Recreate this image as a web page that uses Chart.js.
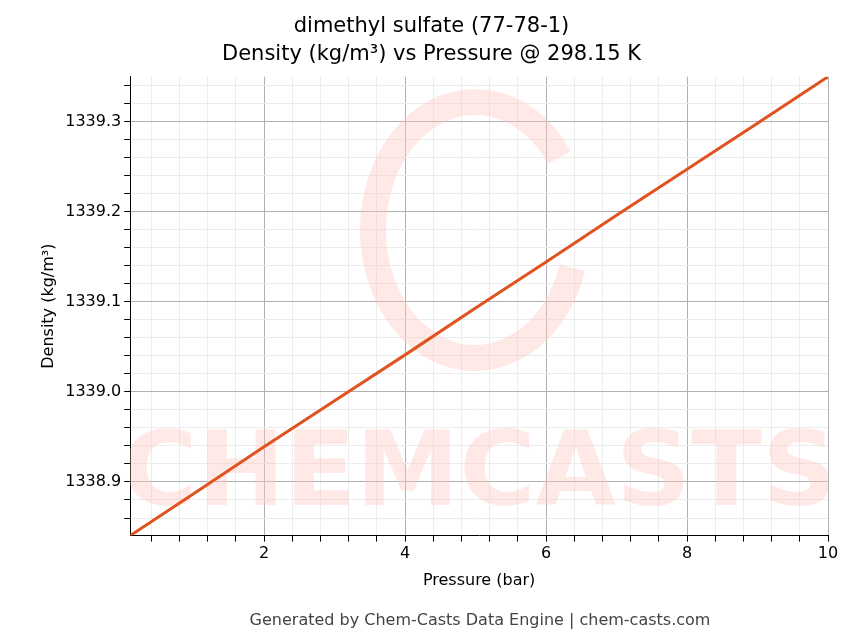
<!DOCTYPE html>
<html><head><meta charset="utf-8">
<script src="https://cdn.jsdelivr.net/npm/chart.js@4"></script>
<style>html,body{margin:0;background:#fff}#wrap{width:856px;height:644px;position:relative}</style>
</head><body><div id="wrap"><canvas id="c" width="856" height="644"></canvas></div>
<script>
const pressure = [0.1, 1, 2, 3, 4, 5, 6, 7, 8, 9, 10];
const density = [1338.8405, 1338.887, 1338.939, 1338.990, 1339.041, 1339.093, 1339.144, 1339.196, 1339.247, 1339.298, 1339.3496];
const xMajor = [2, 4, 6, 8, 10];
const yMajor = [1338.9, 1339.0, 1339.1, 1339.2, 1339.3];

const isMajor = (v, list) => list.some(m => Math.abs(m - v) < 1e-6);

// faint watermark + footer
const extras = {
  id: "extras",
  beforeDatasetsDraw(chart) {
    const { ctx, chartArea: a } = chart;
    ctx.save();
    ctx.beginPath(); ctx.rect(a.left, a.top, a.right - a.left, a.bottom - a.top); ctx.clip();
    ctx.fillStyle = "rgba(255,200,195,0.4)";
    ctx.font = "bold 104px 'DejaVu Sans'";
    ctx.textAlign = "center"; ctx.textBaseline = "middle";
    ctx.fillText("CHEMCASTS", (a.left + a.right) / 2, 478);
    ctx.strokeStyle = "rgba(255,200,195,0.4)"; ctx.lineWidth = 26;
    ctx.beginPath(); ctx.ellipse(475, 230, 102, 128, 0, 0.3, 2 * Math.PI - 0.6); ctx.stroke();
    ctx.restore();
  },
  afterDraw(chart) {
    const { ctx } = chart;
    ctx.save();
    ctx.fillStyle = "#444"; ctx.font = "16px 'DejaVu Sans'"; ctx.textAlign = "center";
    ctx.fillText("Generated by Chem-Casts Data Engine | chem-casts.com", 480, 625);
    ctx.restore();
  }
};

new Chart(document.getElementById("c"), {
  type: "line",
  data: { datasets: [{
    data: pressure.map((p, i) => ({ x: p, y: density[i] })),
    borderColor: "#e0521f", borderWidth: 3, pointRadius: 0, tension: 0
  }]},
  options: {
    responsive: false, animation: false,
    layout: { padding: { left: 35, right: 28, top: 4, bottom: 50 } },
    plugins: {
      legend: { display: false },
      title: { display: true, text: ["dimethyl sulfate (77-78-1)", "Density (kg/m³) vs Pressure @ 298.15 K"],
        color: "#000", font: { family: "DejaVu Sans", size: 21, weight: "normal", lineHeight: 1.35 }, padding: { top: 8, bottom: 8 } }
    },
    scales: {
      x: {
        type: "linear", min: 0.1, max: 10,
        afterBuildTicks: s => { const t = []; for (let v = 0.4; v <= 10.001; v += 0.4) t.push({ value: +v.toFixed(1) }); s.ticks = t; },
        ticks: { color: "#000", font: { family: "DejaVu Sans", size: 16 }, autoSkip: false, maxRotation: 0,
          callback: v => isMajor(v, xMajor) ? String(v) : "" },
        grid: { color: c => isMajor(c.tick.value, xMajor) ? "#b0b0b0" : "#ececec", lineWidth: 1,
          tickLength: 6, tickColor: "#000" },
        border: { color: "#000", width: 1 },
        title: { display: true, text: "Pressure (bar)", color: "#000", font: { family: "DejaVu Sans", size: 16 } }
      },
      y: {
        min: 1338.8405, max: 1339.3496,
        afterBuildTicks: s => { const t = []; for (let v = 1338.86; v <= 1339.341; v += 0.02) t.push({ value: +v.toFixed(2) }); s.ticks = t; },
        ticks: { color: "#000", font: { family: "DejaVu Sans", size: 16 }, autoSkip: false,
          callback: v => isMajor(v, yMajor) ? v.toFixed(1) : "" },
        grid: { color: c => isMajor(c.tick.value, yMajor) ? "#b0b0b0" : "#ececec", lineWidth: 1,
          tickLength: 6, tickColor: "#000" },
        border: { color: "#000", width: 1 },
        title: { display: true, text: "Density (kg/m³)", color: "#000", font: { family: "DejaVu Sans", size: 16 } }
      }
    }
  },
  plugins: [extras]
});
</script></body></html>
